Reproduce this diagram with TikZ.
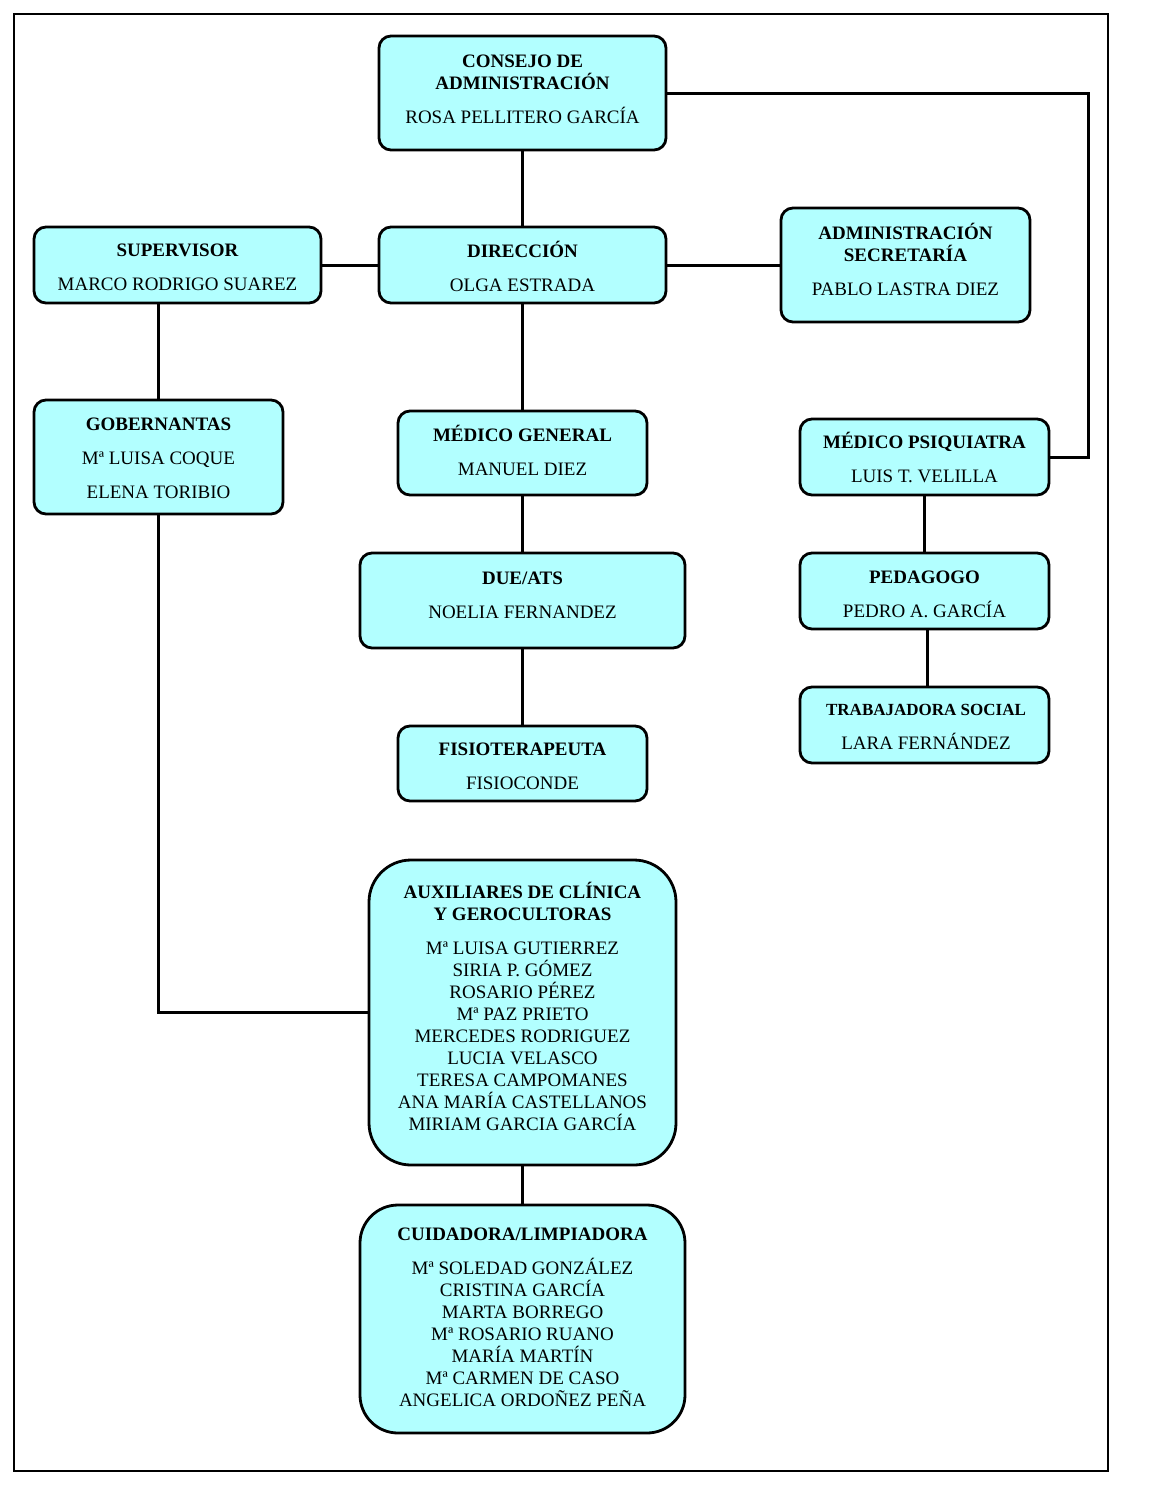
\documentclass[tikz,border=0pt]{standalone}
\usepackage{fontspec}
\setmainfont{Liberation Serif}
\definecolor{boxfill}{RGB}{178,255,255}
\begin{document}
\begin{tikzpicture}[x=1pt,y=-1pt,
  orgbox/.style={draw=black, line width=2.8pt, fill=boxfill, rounded corners=12pt, inner sep=0pt},
  orgtext/.style={align=center, inner sep=0pt, font=\fontsize{19}{22}\selectfont},
  link/.style={draw=black, line width=3pt}]
\useasboundingbox (0,0) rectangle (1170,1486);
\draw[line width=2.8pt] (14,14) rectangle (1108,1471);

\node[orgbox, minimum width=287pt, minimum height=114pt] (cons) at (522.5,93) {};
\node[orgtext, yshift=4pt] (consT) at (cons.center)
  {\textbf{CONSEJO DE}\\\textbf{ADMINISTRACIÓN}\\[12pt]ROSA PELLITERO GARCÍA};
\node[orgbox, minimum width=287pt, minimum height=76pt] (sup) at (177.5,265) {};
\node[orgtext, yshift=-2.5pt] (supT) at (sup.center)
  {\textbf{SUPERVISOR}\\[12pt]MARCO RODRIGO SUAREZ};
\node[orgbox, minimum width=287pt, minimum height=76pt] (dir) at (522.5,265) {};
\node[orgtext, yshift=-1pt] (dirT) at (dir.center)
  {\textbf{DIRECCIÓN}\\[12pt]OLGA ESTRADA};
\node[orgbox, minimum width=249pt, minimum height=114pt] (adm) at (905.5,265) {};
\node[orgtext, yshift=6pt] (admT) at (adm.center)
  {\textbf{ADMINISTRACIÓN}\\\textbf{SECRETARÍA}\\[12pt]PABLO LASTRA DIEZ};
\node[orgbox, minimum width=249pt, minimum height=114pt] (gob) at (158.5,457) {};
\node[orgtext, yshift=-1.5pt] (gobT) at (gob.center)
  {\textbf{GOBERNANTAS}\\[12pt]Mª LUISA COQUE\\[12pt]ELENA TORIBIO};
\node[orgbox, minimum width=249pt, minimum height=84pt] (mg) at (522.5,453) {};
\node[orgtext, yshift=3pt] (mgT) at (mg.center)
  {\textbf{MÉDICO GENERAL}\\[12pt]MANUEL DIEZ};
\node[orgbox, minimum width=249pt, minimum height=76pt] (psiq) at (924.5,457) {};
\node[orgtext, yshift=0pt] (psiqT) at (psiq.center)
  {\textbf{MÉDICO PSIQUIATRA}\\[12pt]LUIS T. VELILLA};
\node[orgbox, minimum width=325pt, minimum height=95pt] (due) at (522.5,600.5) {};
\node[orgtext, yshift=5.5pt] (dueT) at (due.center)
  {\textbf{DUE/ATS}\\[12pt]NOELIA FERNANDEZ};
\node[orgbox, minimum width=249pt, minimum height=76pt] (ped) at (924.5,591) {};
\node[orgtext, yshift=-3pt] (pedT) at (ped.center)
  {\textbf{PEDAGOGO}\\[12pt]PEDRO A. GARCÍA};
\node[orgbox, minimum width=249pt, minimum height=76pt] (trab) at (924.5,725) {};
\node[orgtext, yshift=-1.5pt, xshift=1.5pt] (trabT) at (trab.center)
  {{\fontsize{17}{22}\selectfont\textbf{TRABAJADORA SOCIAL}}\\[12pt]LARA FERNÁNDEZ};
\node[orgbox, minimum width=249pt, minimum height=75pt] (fis) at (522.5,763.5) {};
\node[orgtext, yshift=-3pt] (fisT) at (fis.center)
  {\textbf{FISIOTERAPEUTA}\\[12pt]FISIOCONDE};
\node[orgbox, rounded corners=42pt, minimum width=307pt, minimum height=305pt] (aux) at (522.5,1012.5) {};
\node[orgtext, yshift=6.5pt] (auxT) at (aux.center)
  {\textbf{AUXILIARES DE CLÍNICA}\\\textbf{Y GEROCULTORAS}\\[12pt]Mª LUISA GUTIERREZ\\SIRIA P. GÓMEZ\\ROSARIO PÉREZ\\Mª PAZ PRIETO\\MERCEDES RODRIGUEZ\\LUCIA VELASCO\\TERESA CAMPOMANES\\ANA MARÍA CASTELLANOS\\MIRIAM GARCIA GARCÍA};
\node[orgbox, rounded corners=38pt, minimum width=325pt, minimum height=228pt] (cuid) at (522.5,1319) {};
\node[orgtext, yshift=2pt] (cuidT) at (cuid.center)
  {\textbf{CUIDADORA/LIMPIADORA}\\[12pt]Mª SOLEDAD GONZÁLEZ\\CRISTINA GARCÍA\\MARTA BORREGO\\Mª ROSARIO RUANO\\MARÍA MARTÍN\\Mª CARMEN DE CASO\\ANGELICA ORDOÑEZ PEÑA};

\coordinate (rail) at (1088,93);
\draw[link] (cons) -- (dir);
\draw[link] (sup) -- (dir);
\draw[link] (dir) -- (adm);
\draw[link] (dir) -- (mg);
\draw[link] (mg) -- (due);
\draw[link] (due) -- (fis);
\draw[link] (aux) -- (cuid);
\draw[link] (psiq) -- (ped);
\draw[link] ([xshift=2.5pt]ped.south) -- ([xshift=2.5pt]ped.south |- trab.north);
\draw[link] (gob.north) -- (gob.north |- sup.south);
\draw[link] (gob.south) |- (aux.west);
\draw[link] (cons.east) -- (rail) |- (psiq.east);
\end{tikzpicture}
\end{document}
